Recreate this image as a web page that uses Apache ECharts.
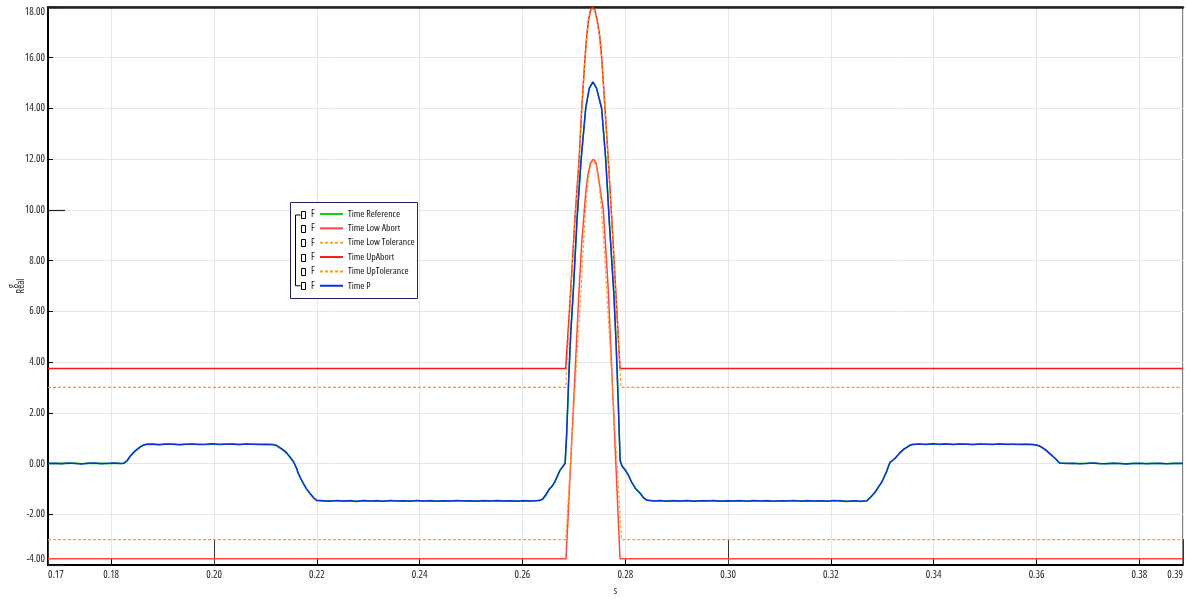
<!DOCTYPE html>
<html>
<head>
<meta charset="utf-8">
<script src="https://cdn.jsdelivr.net/npm/echarts@6/dist/echarts.min.js"></script>
<style>
html,body{margin:0;padding:0;background:#fff;}
#main{width:1186px;height:599px;}
</style>
</head>
<body>
<div id="main"></div>
<script>
// ---- DATA ----
const seriesNames = ['Time Reference', 'Time Low Abort', 'Time Low Tolerance', 'Time UpAbort', 'Time UpTolerance', 'Time P'];
const xMin = 0.1677, xMax = 0.3885;
const yTicksMin = -4, yTicksMax = 18;

const tSignal = [
0.1677,0.1690,0.1703,0.1716,0.1729,0.1742,0.1755,0.1768,0.1781,0.1794,0.1807,0.1818,0.1824,
0.1831,0.1837,0.1844,0.1850,0.1856,0.1862,0.1868,
0.1880,0.1893,0.1906,0.1919,0.1932,0.1945,0.1958,0.1971,0.1984,0.1997,0.2010,0.2023,0.2036,0.2049,0.2062,0.2075,0.2088,0.2101,0.2114,
0.2122,0.2129,0.2136,0.2142,0.2149,0.2155,0.2160,0.2164,0.2169,0.2174,0.2180,0.2187,0.2194,0.2200,
0.2213,0.2226,0.2239,0.2252,0.2265,0.2278,0.2291,0.2304,0.2317,0.2330,0.2343,0.2356,0.2369,0.2382,0.2395,0.2408,0.2421,0.2434,0.2447,0.2460,0.2473,0.2486,0.2499,0.2512,0.2525,0.2538,0.2551,0.2564,0.2577,0.2590,0.2603,0.2616,0.2629,0.2634,
0.2640,0.2647,0.2652,0.2658,0.2663,0.2668,0.2673,0.2678,0.2681,0.2683,
0.2686,0.2690,0.2694,0.2699,0.2706,0.2714,0.2723,0.2730,0.2737,0.2744,0.2754,0.2762,0.2769,0.2778,0.2782,0.2786,0.2790,
0.2794,0.2800,0.2806,0.2812,0.2820,0.2829,0.2835,0.2842,
0.2855,0.2868,0.2881,0.2894,0.2907,0.2920,0.2933,0.2946,0.2959,0.2972,0.2985,0.2998,0.3011,0.3024,0.3037,0.3050,0.3063,0.3076,0.3089,0.3102,0.3115,0.3128,0.3141,0.3154,0.3167,0.3180,0.3193,0.3206,0.3219,0.3232,0.3245,0.3258,0.3270,
0.3278,0.3286,0.3293,0.3299,0.3304,0.3308,0.3312,0.3315,0.3320,0.3325,0.3334,0.3342,0.3350,0.3355,0.3360,
0.3372,0.3385,0.3398,0.3411,0.3424,0.3437,0.3450,0.3463,0.3476,0.3489,0.3502,0.3515,0.3528,0.3541,0.3554,0.3567,0.3580,0.3593,
0.3603,0.3610,0.3618,0.3626,0.3636,0.3645,
0.3658,0.3671,0.3684,0.3697,0.3710,0.3723,0.3736,0.3749,0.3762,0.3775,0.3788,0.3801,0.3814,0.3827,0.3840,0.3853,0.3866,0.3879,0.3885
];
const valuesP = [
0.00,0.01,-0.01,0.02,0.00,-0.02,0.01,0.02,-0.01,0.01,0.02,0.00,0.01,
0.12,0.30,0.45,0.55,0.65,0.72,0.76,
0.77,0.74,0.77,0.76,0.74,0.76,0.77,0.75,0.76,0.78,0.75,0.76,0.77,0.75,0.77,0.76,0.75,0.76,0.75,
0.71,0.62,0.52,0.40,0.22,0.06,-0.16,-0.39,-0.60,-0.79,-1.00,-1.18,-1.35,-1.45,
-1.47,-1.49,-1.46,-1.48,-1.47,-1.50,-1.46,-1.48,-1.47,-1.49,-1.46,-1.48,-1.47,-1.49,-1.46,-1.48,-1.47,-1.49,-1.47,-1.48,-1.46,-1.48,-1.47,-1.49,-1.47,-1.48,-1.46,-1.48,-1.47,-1.49,-1.47,-1.48,-1.46,-1.45,
-1.38,-1.18,-1.02,-0.88,-0.73,-0.48,-0.26,-0.14,-0.07,0.00,
1.20,3.40,5.20,6.83,9.60,11.97,14.00,14.80,15.05,14.80,14.00,11.97,9.50,6.60,4.80,2.60,0.10,
-0.12,-0.26,-0.45,-0.73,-0.98,-1.18,-1.33,-1.45,
-1.48,-1.46,-1.49,-1.47,-1.48,-1.46,-1.49,-1.47,-1.48,-1.46,-1.49,-1.47,-1.48,-1.47,-1.49,-1.46,-1.48,-1.47,-1.49,-1.47,-1.48,-1.46,-1.49,-1.47,-1.48,-1.47,-1.49,-1.46,-1.48,-1.50,-1.47,-1.49,-1.47,
-1.32,-1.12,-0.92,-0.72,-0.52,-0.33,-0.12,0.04,0.13,0.20,0.43,0.56,0.68,0.73,0.75,
0.77,0.75,0.78,0.76,0.77,0.75,0.77,0.76,0.75,0.77,0.76,0.75,0.77,0.76,0.76,0.75,0.76,0.75,
0.71,0.65,0.53,0.39,0.21,0.02,
0.00,0.01,-0.01,0.00,0.02,0.00,-0.01,0.01,0.00,-0.02,0.00,0.01,-0.01,0.00,0.01,-0.01,0.00,0.01,0.00
];
const valuesRef = [
0.00,0.00,0.01,0.00,0.02,-0.01,0.01,0.00,0.01,-0.01,0.01,0.00,0.00,
0.10,0.28,0.44,0.56,0.66,0.72,0.75,
0.76,0.75,0.76,0.77,0.75,0.76,0.76,0.76,0.75,0.76,0.76,0.77,0.76,0.75,0.76,0.76,0.76,0.75,0.75,
0.70,0.60,0.51,0.40,0.23,0.05,-0.17,-0.40,-0.61,-0.80,-1.01,-1.20,-1.37,-1.47,
-1.48,-1.47,-1.47,-1.49,-1.46,-1.48,-1.47,-1.48,-1.46,-1.49,-1.47,-1.47,-1.49,-1.47,-1.47,-1.48,-1.46,-1.48,-1.47,-1.49,-1.47,-1.47,-1.48,-1.47,-1.46,-1.48,-1.47,-1.49,-1.47,-1.48,-1.46,-1.48,-1.47,-1.46,
-1.40,-1.22,-1.00,-0.90,-0.70,-0.52,-0.28,-0.12,-0.08,0.05,
1.10,3.30,5.10,6.80,9.55,11.95,14.00,14.78,15.03,14.82,14.02,12.00,9.55,6.65,4.85,2.65,0.15,
-0.10,-0.24,-0.47,-0.70,-1.00,-1.16,-1.35,-1.44,
-1.47,-1.48,-1.47,-1.46,-1.49,-1.47,-1.48,-1.47,-1.46,-1.48,-1.47,-1.49,-1.47,-1.46,-1.48,-1.47,-1.48,-1.46,-1.49,-1.47,-1.47,-1.48,-1.47,-1.46,-1.49,-1.47,-1.48,-1.47,-1.46,-1.49,-1.47,-1.50,-1.47,
-1.30,-1.14,-0.90,-0.74,-0.50,-0.35,-0.10,0.06,0.11,0.22,0.41,0.58,0.66,0.74,0.76,
0.76,0.76,0.77,0.75,0.78,0.76,0.76,0.77,0.75,0.76,0.76,0.76,0.77,0.75,0.76,0.76,0.76,0.75,
0.72,0.64,0.55,0.38,0.22,0.01,
0.01,0.00,0.00,0.01,0.01,-0.01,0.00,0.01,0.00,-0.01,0.01,0.00,0.00,0.01,0.00,-0.01,0.01,0.00,0.00
];

const tUpAbort = [0.1677,0.26842,0.26939,0.27019,0.27101,0.27153,0.27217,0.27253,0.27286,0.27326,0.27367,0.27408,0.27451,0.27500,0.27542,0.27606,0.27670,0.27742,0.27814,0.27898,0.3885];
const valuesUpAbort = [3.75,3.75,6.83,9.60,11.97,14.00,16.00,16.90,17.50,17.88,18.00,17.88,17.50,16.90,16.00,14.00,11.97,9.50,6.83,3.75,3.75];
const tUpTol = [0.1677,0.26842,0.26943,0.27019,0.27101,0.27153,0.27217,0.27253,0.27286,0.27326,0.27367,0.27408,0.27451,0.27500,0.27542,0.27606,0.27670,0.27742,0.27810,0.27917,0.3885];
const valuesUpTol = [3.00,3.00,6.83,9.55,11.90,13.95,15.95,16.85,17.45,17.83,17.95,17.83,17.45,16.85,15.95,13.95,11.90,9.45,6.83,3.00,3.00];
const tLowAbort = [0.1677,0.26848,0.27101,0.27150,0.27204,0.27237,0.27276,0.27324,0.27379,0.27432,0.27471,0.27510,0.27573,0.27620,0.27670,0.27898,0.3885];
const valuesLowAbort = [-3.75,-3.75,6.83,8.60,10.00,10.80,11.40,11.85,12.00,11.85,11.40,10.85,10.00,8.50,6.83,-3.75,-3.75];
const tLowTol = [0.1677,0.26842,0.27140,0.27185,0.27227,0.27260,0.27295,0.27335,0.27373,0.27420,0.27461,0.27500,0.27538,0.27590,0.27639,0.27927,0.3885];
const valuesLowTol = [-3.00,-3.00,6.83,8.60,10.00,10.80,11.40,11.80,11.95,11.80,11.40,10.85,10.00,8.50,6.83,-3.00,-3.00];

// ---- CHART ----
const FONT = "'Open Sans', 'Roboto Condensed', sans-serif";
const STRETCH = 'condensed'; // goes into the font shorthand slot before the size
const zip = (xs, ys) => xs.map((x, i) => [x, ys[i]]);
const chart = echarts.init(document.getElementById('main'), null, {renderer: 'canvas'});

const rowY0 = 214, rowStep = 14.35;
const graphics = [
  {type: 'rect', z: 3, shape: {x: 290.5, y: 202.5, width: 127, height: 96},
   style: {fill: '#fff', stroke: '#20206e', lineWidth: 1}},
  {type: 'polyline', z: 3, shape: {points: [[300.5, rowY0 + 1], [295.5, rowY0 + 1], [295.5, rowY0 + 5 * rowStep], [300.5, rowY0 + 5 * rowStep]]},
   style: {stroke: '#000', lineWidth: 1, fill: null}}
];
for (let i = 0; i < 6; i++) {
  const yc = rowY0 + i * rowStep;
  graphics.push({type: 'rect', z: 3, shape: {x: 301.5, y: Math.round(yc - 3.5) + 0.5, width: 4, height: 7},
    style: {fill: null, stroke: '#000', lineWidth: 1}});
  graphics.push({type: 'text', z: 3, x: 311, y: yc,
    style: {text: 'F', fill: '#111', font: STRETCH + ' 10px ' + FONT, verticalAlign: 'middle', align: 'left'}});
}

const lineSeries = (name, data, color, width, dashed) => ({
  name, type: 'line', data, symbol: 'none', showSymbol: false, clip: true,
  lineStyle: {color, width, type: dashed ? [3, 2] : 'solid'},
  itemStyle: {color}, emphasis: {disabled: true}
});

const txt = (size, extra) => Object.assign({fontSize: size, fontFamily: FONT, fontWeight: STRETCH, color: '#222'}, extra || {});

chart.setOption({
  animation: false,
  backgroundColor: '#fff',
  textStyle: {fontFamily: FONT},
  grid: {left: 48, right: 3, top: 7, bottom: 34, show: true, borderColor: '#000', borderWidth: 1,
         containLabel: false, outerBoundsMode: 'none'},
  graphic: graphics,
  legend: {
    orient: 'vertical', left: 319, top: 209, padding: 0, z: 4,
    itemWidth: 23, itemHeight: 10, itemGap: 4.35,
    itemStyle: {opacity: 0},
    textStyle: txt(9.8, {color: '#111', lineHeight: 10}),
    data: seriesNames
  },
  xAxis: [
    {type: 'value', min: xMin, max: xMax, minInterval: 0.02, maxInterval: 0.02,
     name: 's', nameLocation: 'middle', nameGap: 21, nameMoveOverlap: false,
     nameTextStyle: txt(10),
     axisLine: {show: true, onZero: false, lineStyle: {color: '#000', width: 2}},
     axisTick: {show: true, inside: true, length: 6, lineStyle: {color: '#000'}},
     axisLabel: Object.assign(txt(10.5), {margin: 5, alignMinLabel: 'left', alignMaxLabel: 'right',
       formatter: v => v.toFixed(2)}),
     splitLine: {show: true, lineStyle: {color: '#e6e6e6', width: 1}}},
    {type: 'value', min: xMin, max: xMax, minInterval: 0.1, maxInterval: 0.1, position: 'bottom',
     axisLine: {show: false, onZero: false}, axisLabel: {show: false}, splitLine: {show: false},
     axisTick: {show: true, inside: true, length: 26, lineStyle: {color: '#333', width: 1}}},
    {type: 'value', min: xMin, max: xMax, position: 'top',
     axisLine: {show: true, onZero: false, lineStyle: {color: '#222', width: 2.5}}, axisLabel: {show: false},
     axisTick: {show: false}, splitLine: {show: false}}
  ],
  yAxis: [
    {type: 'value', min: yTicksMin, max: yTicksMax, minInterval: 2, maxInterval: 2,
     name: 'g\nReal', nameLocation: 'middle', nameRotate: 90, nameGap: 22, nameMoveOverlap: false,
     nameTextStyle: txt(10, {lineHeight: 9, align: 'center'}),
     axisLine: {show: true, onZero: false, lineStyle: {color: '#000', width: 2}},
     axisTick: {show: true, inside: true, length: 5, lineStyle: {color: '#000'}},
     axisLabel: Object.assign(txt(10.5), {margin: 3,
       verticalAlignMinLabel: 'bottom', verticalAlignMaxLabel: 'top',
       formatter: v => v.toFixed(2)}),
     splitLine: {show: true, lineStyle: {color: '#e6e6e6', width: 1}}},
    {type: 'value', min: yTicksMin, max: yTicksMax, minInterval: 10, maxInterval: 10, position: 'left', offset: 0,
     axisLine: {show: false, onZero: false}, axisLabel: {show: false}, splitLine: {show: false},
     axisTick: {show: true, inside: true, length: 17, lineStyle: {color: '#222', width: 1.2}}}
  ],
  series: [
    lineSeries('Time Reference', zip(tSignal, valuesRef), '#10d010', 1.5, false),
    lineSeries('Time Low Abort', zip(tLowAbort, valuesLowAbort), '#ff4545', 1.5, false),
    lineSeries('Time Low Tolerance', zip(tLowTol, valuesLowTol), '#ffa126', 1.2, true),
    lineSeries('Time UpAbort', zip(tUpAbort, valuesUpAbort), '#f21c1c', 1.5, false),
    lineSeries('Time UpTolerance', zip(tUpTol, valuesUpTol), '#ff9a10', 1.2, true),
    lineSeries('Time P', zip(tSignal, valuesP), '#0a2fe0', 1.5, false)
  ]
});
</script>
</body>
</html>
